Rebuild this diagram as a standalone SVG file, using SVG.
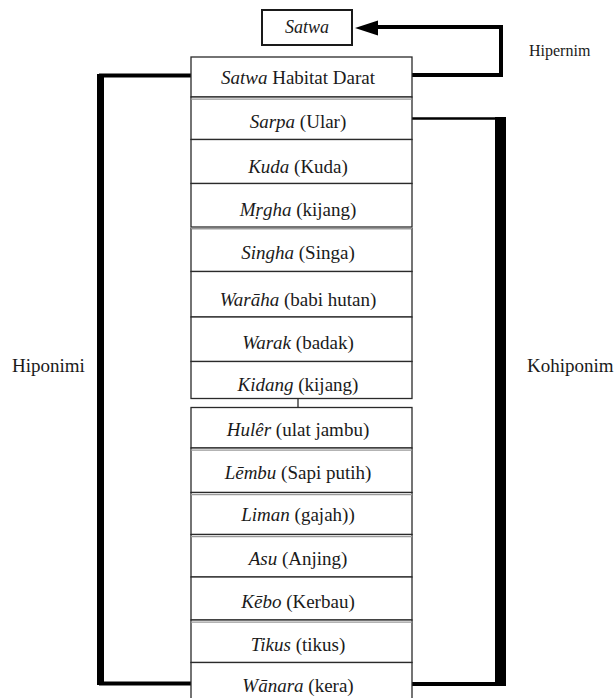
<svg xmlns="http://www.w3.org/2000/svg" width="616" height="698" viewBox="0 0 616 698" font-family="'Liberation Serif', 'DejaVu Serif', 'Times New Roman', serif">
<style>
text{font-family:'Liberation Serif','DejaVu Serif','Times New Roman',serif;font-size:19px;fill:#1a1a1a;text-anchor:middle}
.i{font-style:italic}
.row{fill:#fff;stroke:#2a2a2a;stroke-width:1.3}
.dbl{stroke:#9a9a9a;stroke-width:1.3}
.tick{stroke:#2a2a2a;stroke-width:1.3}
.lbl{text-anchor:start}
</style>
<rect width="616" height="698" fill="#fff"/>
<g id="connectors">
  <path d="M412,75 H501 V27 H376" fill="none" stroke="#000" stroke-width="4"/>
  <polygon points="355,28 378,20.5 378,35.5" fill="#000"/>
  <path d="M191,75.5 H101 V683.5 H191" fill="none" stroke="#000" stroke-width="4"/>
  <rect x="97" y="74" width="7" height="611" fill="#000"/>
  <path d="M412,118.5 H497" fill="none" stroke="#000" stroke-width="2.5"/>
  <rect x="495" y="117" width="11" height="569" fill="#000"/>
  <path d="M412,684 H506" fill="none" stroke="#000" stroke-width="4"/>
  <line class="tick" x1="298" y1="136.5" x2="298" y2="143"/>
  <line class="tick" x1="298" y1="180.5" x2="298" y2="188"/>
  <line class="tick" x1="298" y1="269" x2="298" y2="277"/>
  <line class="tick" x1="298" y1="398" x2="298" y2="408"/>
</g>
<g id="satwa">
  <rect x="262" y="10" width="90" height="35" fill="#fff" stroke="#1a1a1a" stroke-width="2"/>
  <text x="307" y="33" class="i" style="font-size:18px">Satwa</text>
</g>
<g id="habitat">
  <rect class="row" x="191" y="57" width="221" height="40"/>
  <text x="298" y="84"><tspan class="i">Satwa</tspan> Habitat Darat</text>
</g>
<g id="sarpa">
  <rect class="row" x="191" y="97" width="221" height="42.5"/>
  <line class="dbl" x1="191" y1="99.2" x2="412" y2="99.2"/>
  <text x="298" y="127.5"><tspan class="i">Sarpa</tspan> (Ular)</text>
</g>
<g id="kuda">
  <rect class="row" x="191" y="139.5" width="221" height="44"/>
  <text x="298" y="172.5"><tspan class="i">Kuda</tspan> (Kuda)</text>
</g>
<g id="mrgha">
  <rect class="row" x="191" y="183.5" width="221" height="43.5"/>
  <text x="298" y="216"><tspan class="i">Mṛgha</tspan> (kijang)</text>
</g>
<g id="singha">
  <rect class="row" x="191" y="228.5" width="221" height="43"/>
  <line class="dbl" x1="191" y1="228.5" x2="412" y2="228.5"/>
  <text x="298" y="259"><tspan class="i">Singha</tspan> (Singa)</text>
</g>
<g id="waraha">
  <rect class="row" x="191" y="271.5" width="221" height="45.5"/>
  <text x="298" y="305.5"><tspan class="i">Warāha</tspan> (babi hutan)</text>
</g>
<g id="warak">
  <rect class="row" x="191" y="317" width="221" height="44.5"/>
  <text x="298" y="349"><tspan class="i">Warak</tspan> (badak)</text>
</g>
<g id="kidang">
  <rect class="row" x="191" y="361.5" width="221" height="37"/>
  <text x="298" y="391"><tspan class="i">Kidang</tspan> (kijang)</text>
</g>
<g id="huler">
  <rect class="row" x="191" y="407.5" width="221" height="40.5"/>
  <text x="298" y="435.5"><tspan class="i">Hulêr</tspan> (ulat jambu)</text>
</g>
<g id="lembu">
  <rect class="row" x="191" y="448" width="221" height="44.5"/>
  <line class="dbl" x1="191" y1="450.2" x2="412" y2="450.2"/>
  <text x="298" y="479"><tspan class="i">Lēmbu</tspan> (Sapi putih)</text>
</g>
<g id="liman">
  <rect class="row" x="191" y="492.5" width="221" height="42"/>
  <line class="dbl" x1="191" y1="494.7" x2="412" y2="494.7"/>
  <text x="298" y="521"><tspan class="i">Liman</tspan> (gajah))</text>
</g>
<g id="asu">
  <rect class="row" x="191" y="534.5" width="221" height="42.5"/>
  <line class="dbl" x1="191" y1="536.7" x2="412" y2="536.7"/>
  <text x="298" y="565"><tspan class="i">Asu</tspan> (Anjing)</text>
</g>
<g id="kebo">
  <rect class="row" x="191" y="577" width="221" height="43"/>
  <text x="298" y="607.5"><tspan class="i">Kēbo</tspan> (Kerbau)</text>
</g>
<g id="tikus">
  <rect class="row" x="191" y="620" width="221" height="42.5"/>
  <line class="dbl" x1="191" y1="622.2" x2="412" y2="622.2"/>
  <text x="298" y="651"><tspan class="i">Tikus</tspan> (tikus)</text>
</g>
<g id="wanara">
  <rect class="row" x="191" y="662.5" width="221" height="45"/>
  <text x="298" y="692"><tspan class="i">Wānara</tspan> (kera)</text>
</g>
<g id="labels">
  <text class="lbl" x="12" y="372">Hiponimi</text>
  <text class="lbl" x="527" y="372">Kohiponim</text>
  <text class="lbl" x="529" y="56" style="font-size:16px">Hipernim</text>
</g>
</svg>
